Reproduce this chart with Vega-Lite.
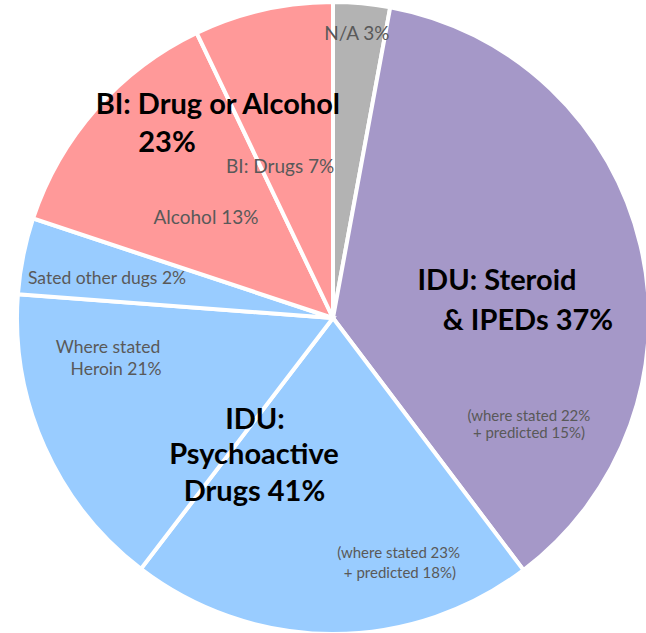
{
  "$schema": "https://vega.github.io/schema/vega-lite/v6.json",
  "width": 626,
  "height": 630,
  "autosize": {"type": "none"},
  "padding": {"left": 20, "top": 3, "right": 0, "bottom": 0},
  "background": "white",
  "config": {"view": {"stroke": null}},
  "datasets": {
    "slices": [
      {"slice": "N/A", "order": 1, "value": 2.9},
      {"slice": "IDU: Steroid & IPEDs", "order": 2, "value": 36.8},
      {"slice": "IDU: Psychoactive (where stated 23% + predicted 18%)", "order": 3, "value": 20.7},
      {"slice": "Where stated Heroin", "order": 4, "value": 15.8},
      {"slice": "Sated other dugs", "order": 5, "value": 3.9},
      {"slice": "Alcohol", "order": 6, "value": 12.8},
      {"slice": "BI: Drugs", "order": 7, "value": 7.1}
    ],
    "labels": [
      {"kind": "big", "text": "BI: Drug or Alcohol", "angle": 331.6, "dist": 242.1},
      {"kind": "big", "text": "23%", "angle": 316.5, "dist": 241.2},
      {"kind": "big", "text": "IDU: Steroid", "angle": 77.3, "dist": 168.1},
      {"kind": "big", "text": "& IPEDs 37%", "angle": 90.9, "dist": 195.0},
      {"kind": "big", "text": "IDU:", "angle": 217.4, "dist": 128.4},
      {"kind": "big", "text": "Psychoactive", "angle": 210.0, "dist": 158.1},
      {"kind": "big", "text": "Drugs 41%", "angle": 204.3, "dist": 190.9},
      {"kind": "mid", "text": "N/A 3%", "angle": 4.8, "dist": 285.0},
      {"kind": "mid", "text": "BI: Drugs 7%", "angle": 340.7, "dist": 160.0},
      {"kind": "mid", "text": "Alcohol 13%", "angle": 308.2, "dist": 161.6},
      {"kind": "mid2", "text": "Sated other dugs 2%", "angle": 279.8, "dist": 229.3},
      {"kind": "mid2", "text": "Where stated", "angle": 262.4, "dist": 227.0},
      {"kind": "mid2", "text": "Heroin 21%", "angle": 256.5, "dist": 223.1},
      {"kind": "small", "text": "(where stated 22%", "angle": 116.6, "dist": 219.1},
      {"kind": "small", "text": "+ predicted 15%)", "angle": 120.4, "dist": 227.2},
      {"kind": "small", "text": "(where stated 23%", "angle": 164.4, "dist": 244.0},
      {"kind": "small", "text": "+ predicted 18%)", "angle": 165.3, "dist": 263.7}
    ]
  },
  "layer": [
    {
      "data": {"name": "slices"},
      "mark": {"type": "arc", "radius": 316, "stroke": "white", "strokeWidth": 4},
      "encoding": {
        "theta": {"field": "value", "type": "quantitative", "stack": true},
        "order": {"field": "order", "type": "quantitative"},
        "color": {
          "field": "slice",
          "type": "nominal",
          "legend": null,
          "scale": {
            "domain": ["N/A", "IDU: Steroid & IPEDs", "IDU: Psychoactive (where stated 23% + predicted 18%)", "Where stated Heroin", "Sated other dugs", "Alcohol", "BI: Drugs"],
            "range": ["#B3B3B3", "#A598C8", "#99CCFF", "#99CCFF", "#99CCFF", "#FF9999", "#FF9999"]
          }
        }
      }
    },
    {
      "data": {"name": "labels"},
      "transform": [{"filter": "datum.kind === 'big'"}],
      "mark": {"type": "text", "font": "Lato", "fontWeight": "bold", "fontSize": 29, "color": "#000000", "align": "center", "baseline": "middle"},
      "encoding": {
        "theta": {"field": "angle", "type": "quantitative", "stack": null, "scale": {"domain": [0, 360], "range": [0, 6.283185307179586]}},
        "radius": {"field": "dist", "type": "quantitative", "scale": {"type": "linear", "domain": [0, 316], "range": [0, 316], "zero": true}},
        "text": {"field": "text", "type": "nominal"}
      }
    },
    {
      "data": {"name": "labels"},
      "transform": [{"filter": "datum.kind === 'mid'"}],
      "mark": {"type": "text", "font": "Lato", "fontSize": 19, "color": "#595959", "align": "center", "baseline": "middle"},
      "encoding": {
        "theta": {"field": "angle", "type": "quantitative", "stack": null, "scale": {"domain": [0, 360], "range": [0, 6.283185307179586]}},
        "radius": {"field": "dist", "type": "quantitative", "scale": {"type": "linear", "domain": [0, 316], "range": [0, 316], "zero": true}},
        "text": {"field": "text", "type": "nominal"}
      }
    },
    {
      "data": {"name": "labels"},
      "transform": [{"filter": "datum.kind === 'mid2'"}],
      "mark": {"type": "text", "font": "Lato", "fontSize": 17.5, "color": "#595959", "align": "center", "baseline": "middle"},
      "encoding": {
        "theta": {"field": "angle", "type": "quantitative", "stack": null, "scale": {"domain": [0, 360], "range": [0, 6.283185307179586]}},
        "radius": {"field": "dist", "type": "quantitative", "scale": {"type": "linear", "domain": [0, 316], "range": [0, 316], "zero": true}},
        "text": {"field": "text", "type": "nominal"}
      }
    },
    {
      "data": {"name": "labels"},
      "transform": [{"filter": "datum.kind === 'small'"}],
      "mark": {"type": "text", "font": "Lato", "fontSize": 15, "color": "#595959", "align": "center", "baseline": "middle"},
      "encoding": {
        "theta": {"field": "angle", "type": "quantitative", "stack": null, "scale": {"domain": [0, 360], "range": [0, 6.283185307179586]}},
        "radius": {"field": "dist", "type": "quantitative", "scale": {"type": "linear", "domain": [0, 316], "range": [0, 316], "zero": true}},
        "text": {"field": "text", "type": "nominal"}
      }
    }
  ],
  "resolve": {"scale": {"theta": "independent", "radius": "independent"}}
}
